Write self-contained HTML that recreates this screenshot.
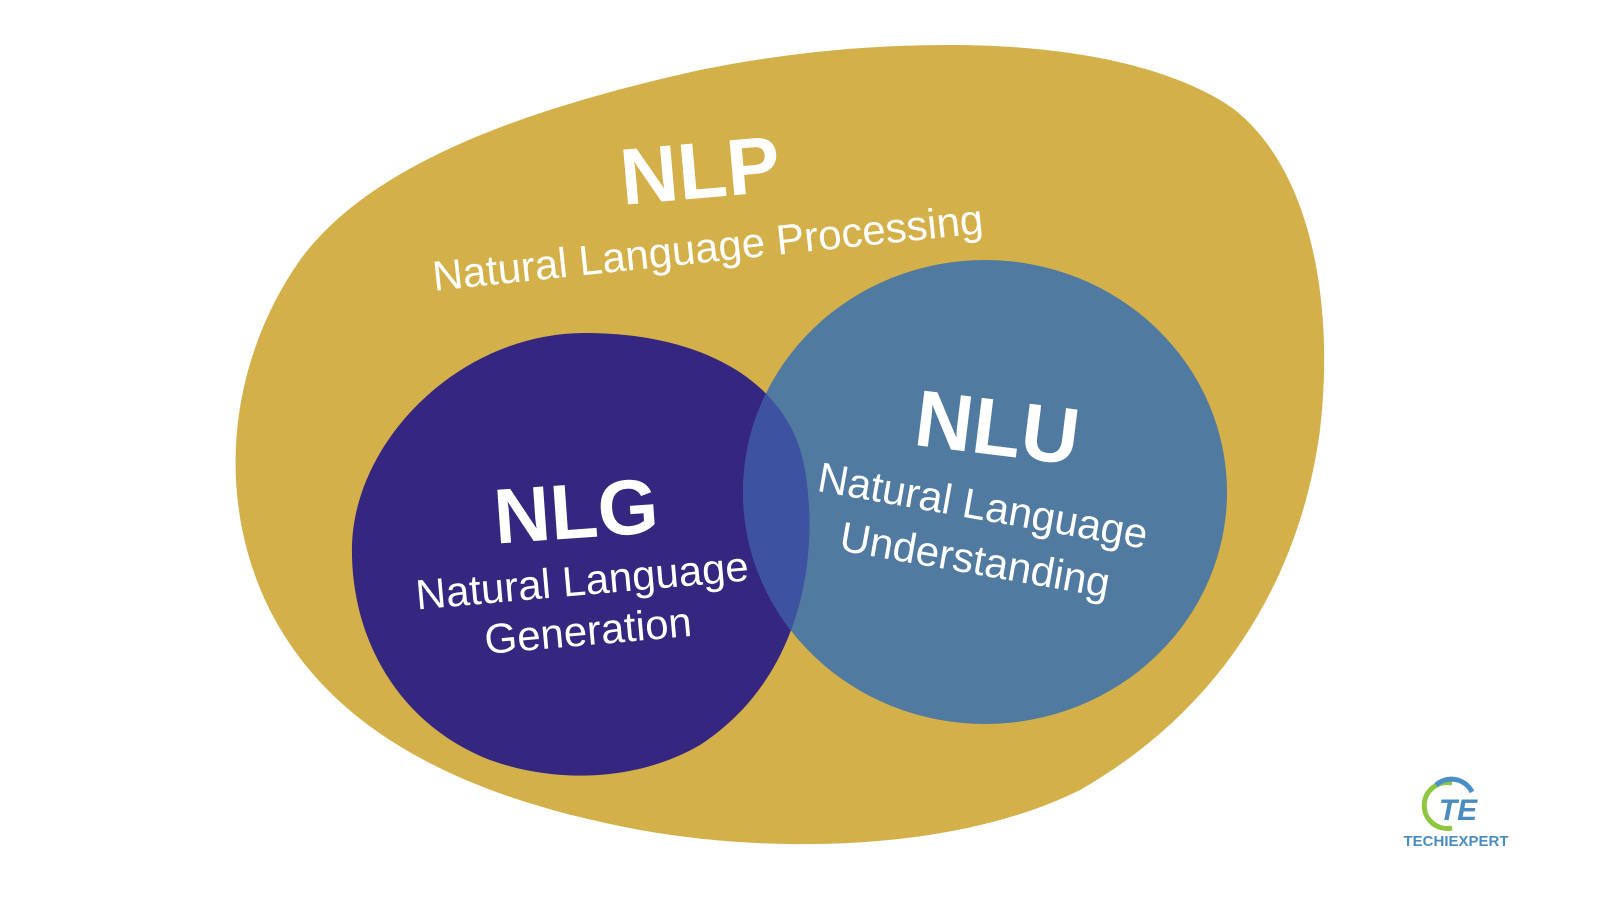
<!DOCTYPE html>
<html><head><meta charset="utf-8"><style>
html,body{margin:0;padding:0;background:#fff;width:1600px;height:900px;overflow:hidden}
text{font-family:"Liberation Sans",sans-serif;fill:#fff}
</style></head><body>
<svg width="1600" height="900" viewBox="0 0 1600 900">
<defs>
<clipPath id="nlg"><path d="M585,333 C700,333 790,380 805,470 C820,560 800,680 700,745 C640,780 560,785 490,760 C400,725 350,640 352,545 C355,440 460,333 585,333Z"/></clipPath>
</defs>
<path d="M950,45 C1080,45 1180,70 1235,110 C1310,170 1335,300 1320,430 C1300,580 1220,710 1080,790 C960,850 780,855 640,830 C480,800 330,740 265,600 C215,490 230,360 300,260 C370,165 520,110 700,70 C800,50 880,45 950,45Z" fill="#d4b04a"/>
<path d="M585,333 C700,333 790,380 805,470 C820,560 800,680 700,745 C640,780 560,785 490,760 C400,725 350,640 352,545 C355,440 460,333 585,333Z" fill="#35267f"/>
<ellipse cx="985" cy="492" rx="242" ry="232" fill="#517aa1"/>
<ellipse cx="985" cy="492" rx="242" ry="232" fill="#3d52a0" clip-path="url(#nlg)"/>
<text x="700" y="198" font-size="80" font-weight="bold" text-anchor="middle" transform="rotate(-5 700 170)">NLP</text>
<text x="708" y="262" font-size="42" text-anchor="middle" transform="rotate(-6 708 250)">Natural Language Processing</text>
<text x="576" y="538" font-size="78" font-weight="bold" text-anchor="middle" transform="rotate(-4 576 510)">NLG</text>
<text x="582" y="595" font-size="42" text-anchor="middle" transform="rotate(-5 582 580)">Natural Language</text>
<text x="588" y="645" font-size="42" text-anchor="middle" transform="rotate(-5 588 630)">Generation</text>
<text x="997" y="455" font-size="80" font-weight="bold" text-anchor="middle" transform="rotate(7 997 430)">NLU</text>
<text x="983" y="520" font-size="42" text-anchor="middle" transform="rotate(10 983 505)">Natural Language</text>
<text x="975" y="574" font-size="42" text-anchor="middle" transform="rotate(10 975 560)">Understanding</text>
<path d="M1452,783 A23,23 0 1 0 1452,828" fill="none" stroke="#8dc63f" stroke-width="5"/>
<path d="M1436,785 A23,23 0 0 1 1472,792" fill="none" stroke="#4a90c8" stroke-width="5"/>
<text x="1458" y="820" font-size="30" font-style="italic" font-weight="bold" style="fill:#4a8cc0" text-anchor="middle">TE</text>
<text x="1456" y="846" font-size="15" font-weight="bold" style="fill:#4a8cc0" text-anchor="middle">TECHIEXPERT</text>
</svg>
</body></html>
